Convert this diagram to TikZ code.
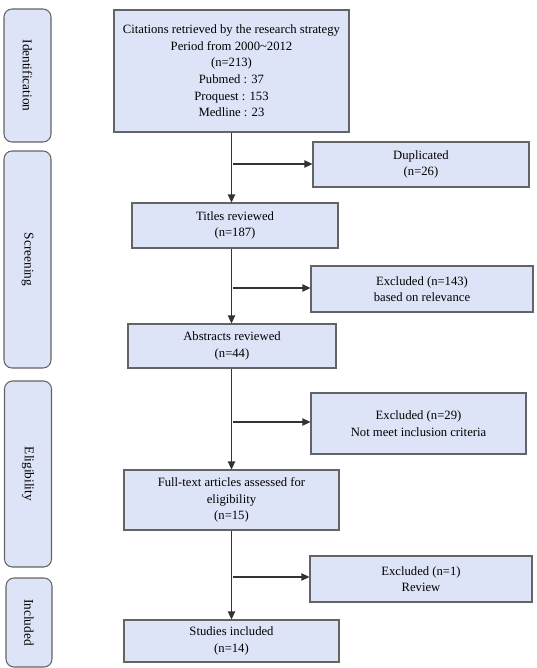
\documentclass[tikz,border=0pt]{standalone}
\usepackage{fontspec}
\setmainfont{Liberation Serif}
\usepackage{xcolor}
\usetikzlibrary{arrows.meta,positioning}
\definecolor{boxfill}{RGB}{222,228,247}
\definecolor{boxline}{RGB}{100,100,100}

\begin{document}
\begin{tikzpicture}[
    x=0.75pt, y=-0.75pt,
    box/.style={draw=boxline, line width=0.8pt, fill=boxfill, align=center, inner sep=2pt,
        font=\fontsize{9.5}{12.5}\selectfont},
    stagebox/.style={draw=boxline, line width=0.8pt, fill=boxfill, rounded corners=6pt,
        font=\fontsize{10}{12}\selectfont},
    arr/.style={-{Triangle[length=6pt, width=5.5pt]}, line width=0.8pt, black!80}
]
\useasboundingbox (0,0) rectangle (536,668);

% stages on the left
\node[stagebox, minimum width=47*0.75pt, minimum height=133*0.75pt] (s-id) at (27.5,75.5) {};
\node[rotate=-90, font=\fontsize{10}{12}\selectfont] at (s-id.center) {Identification};
\node[stagebox, minimum width=47*0.75pt, minimum height=217*0.75pt] (s-scr) at (27.5,259.5) {};
\node[rotate=-90, font=\fontsize{10}{12}\selectfont] at (s-scr.center) {Screening};
\node[stagebox, minimum width=47*0.75pt, minimum height=186*0.75pt] (s-elig) at (28,474) {};
\node[rotate=-90, font=\fontsize{10}{12}\selectfont] at (s-elig.center) {Eligibility};
\node[stagebox, minimum width=46*0.75pt, minimum height=89*0.75pt] (s-inc) at (29,622.5) {};
\node[rotate=-90, font=\fontsize{10}{12}\selectfont] at (s-inc.center) {Included};

% main flow
\node[box, minimum width=235*0.75pt, minimum height=122*0.75pt] (citations) at (231.5,71)
    {Citations retrieved by the research strategy\\Period from 2000\textasciitilde2012\\(n=213)\\Pubmed : 37\\Proquest : 153\\Medline : 23};
\node[box, minimum width=206*0.75pt, minimum height=45*0.75pt] (titles) at (235,225.5) {Titles reviewed\\(n=187)};
\node[box, minimum width=208*0.75pt, minimum height=44*0.75pt] (abstracts) at (232,346) {Abstracts reviewed\\(n=44)};
\node[box, minimum width=215*0.75pt, minimum height=60*0.75pt] (fulltext) at (231.5,500) {Full-text articles assessed for\\eligibility\\(n=15)};
\node[box, minimum width=215*0.75pt, minimum height=42*0.75pt] (included) at (231.5,641) {Studies included\\(n=14)};

% excluded boxes
\node[box, minimum width=216*0.75pt, minimum height=45*0.75pt] (dup) at (421,164.5) {Duplicated\\(n=26)};
\node[box, minimum width=222*0.75pt, minimum height=46*0.75pt] (ex-rel) at (422,289) {Excluded (n=143)\\based on relevance};
\node[box, minimum width=215*0.75pt, minimum height=61*0.75pt] (ex-crit) at (418.5,423.5) {Excluded (n=29)\\Not meet inclusion criteria};
\node[box, minimum width=222*0.75pt, minimum height=46*0.75pt] (ex-rev) at (421,579) {Excluded (n=1)\\Review};

\foreach \a/\b in {citations/titles, titles/abstracts, abstracts/fulltext, fulltext/included}
    \draw[arr] (citations.south |- \a.south) -- (citations.south |- \b.north);

\coordinate (c-dup) at (233,164);
\coordinate (c-rel) at (233,288);
\coordinate (c-crit) at (233,422);
\coordinate (c-rev) at (233,577);
\foreach \c/\b in {c-dup/dup, c-rel/ex-rel, c-crit/ex-crit, c-rev/ex-rev}
    \draw[arr] (\c) -- (\c -| \b.west);
\end{tikzpicture}
\end{document}
